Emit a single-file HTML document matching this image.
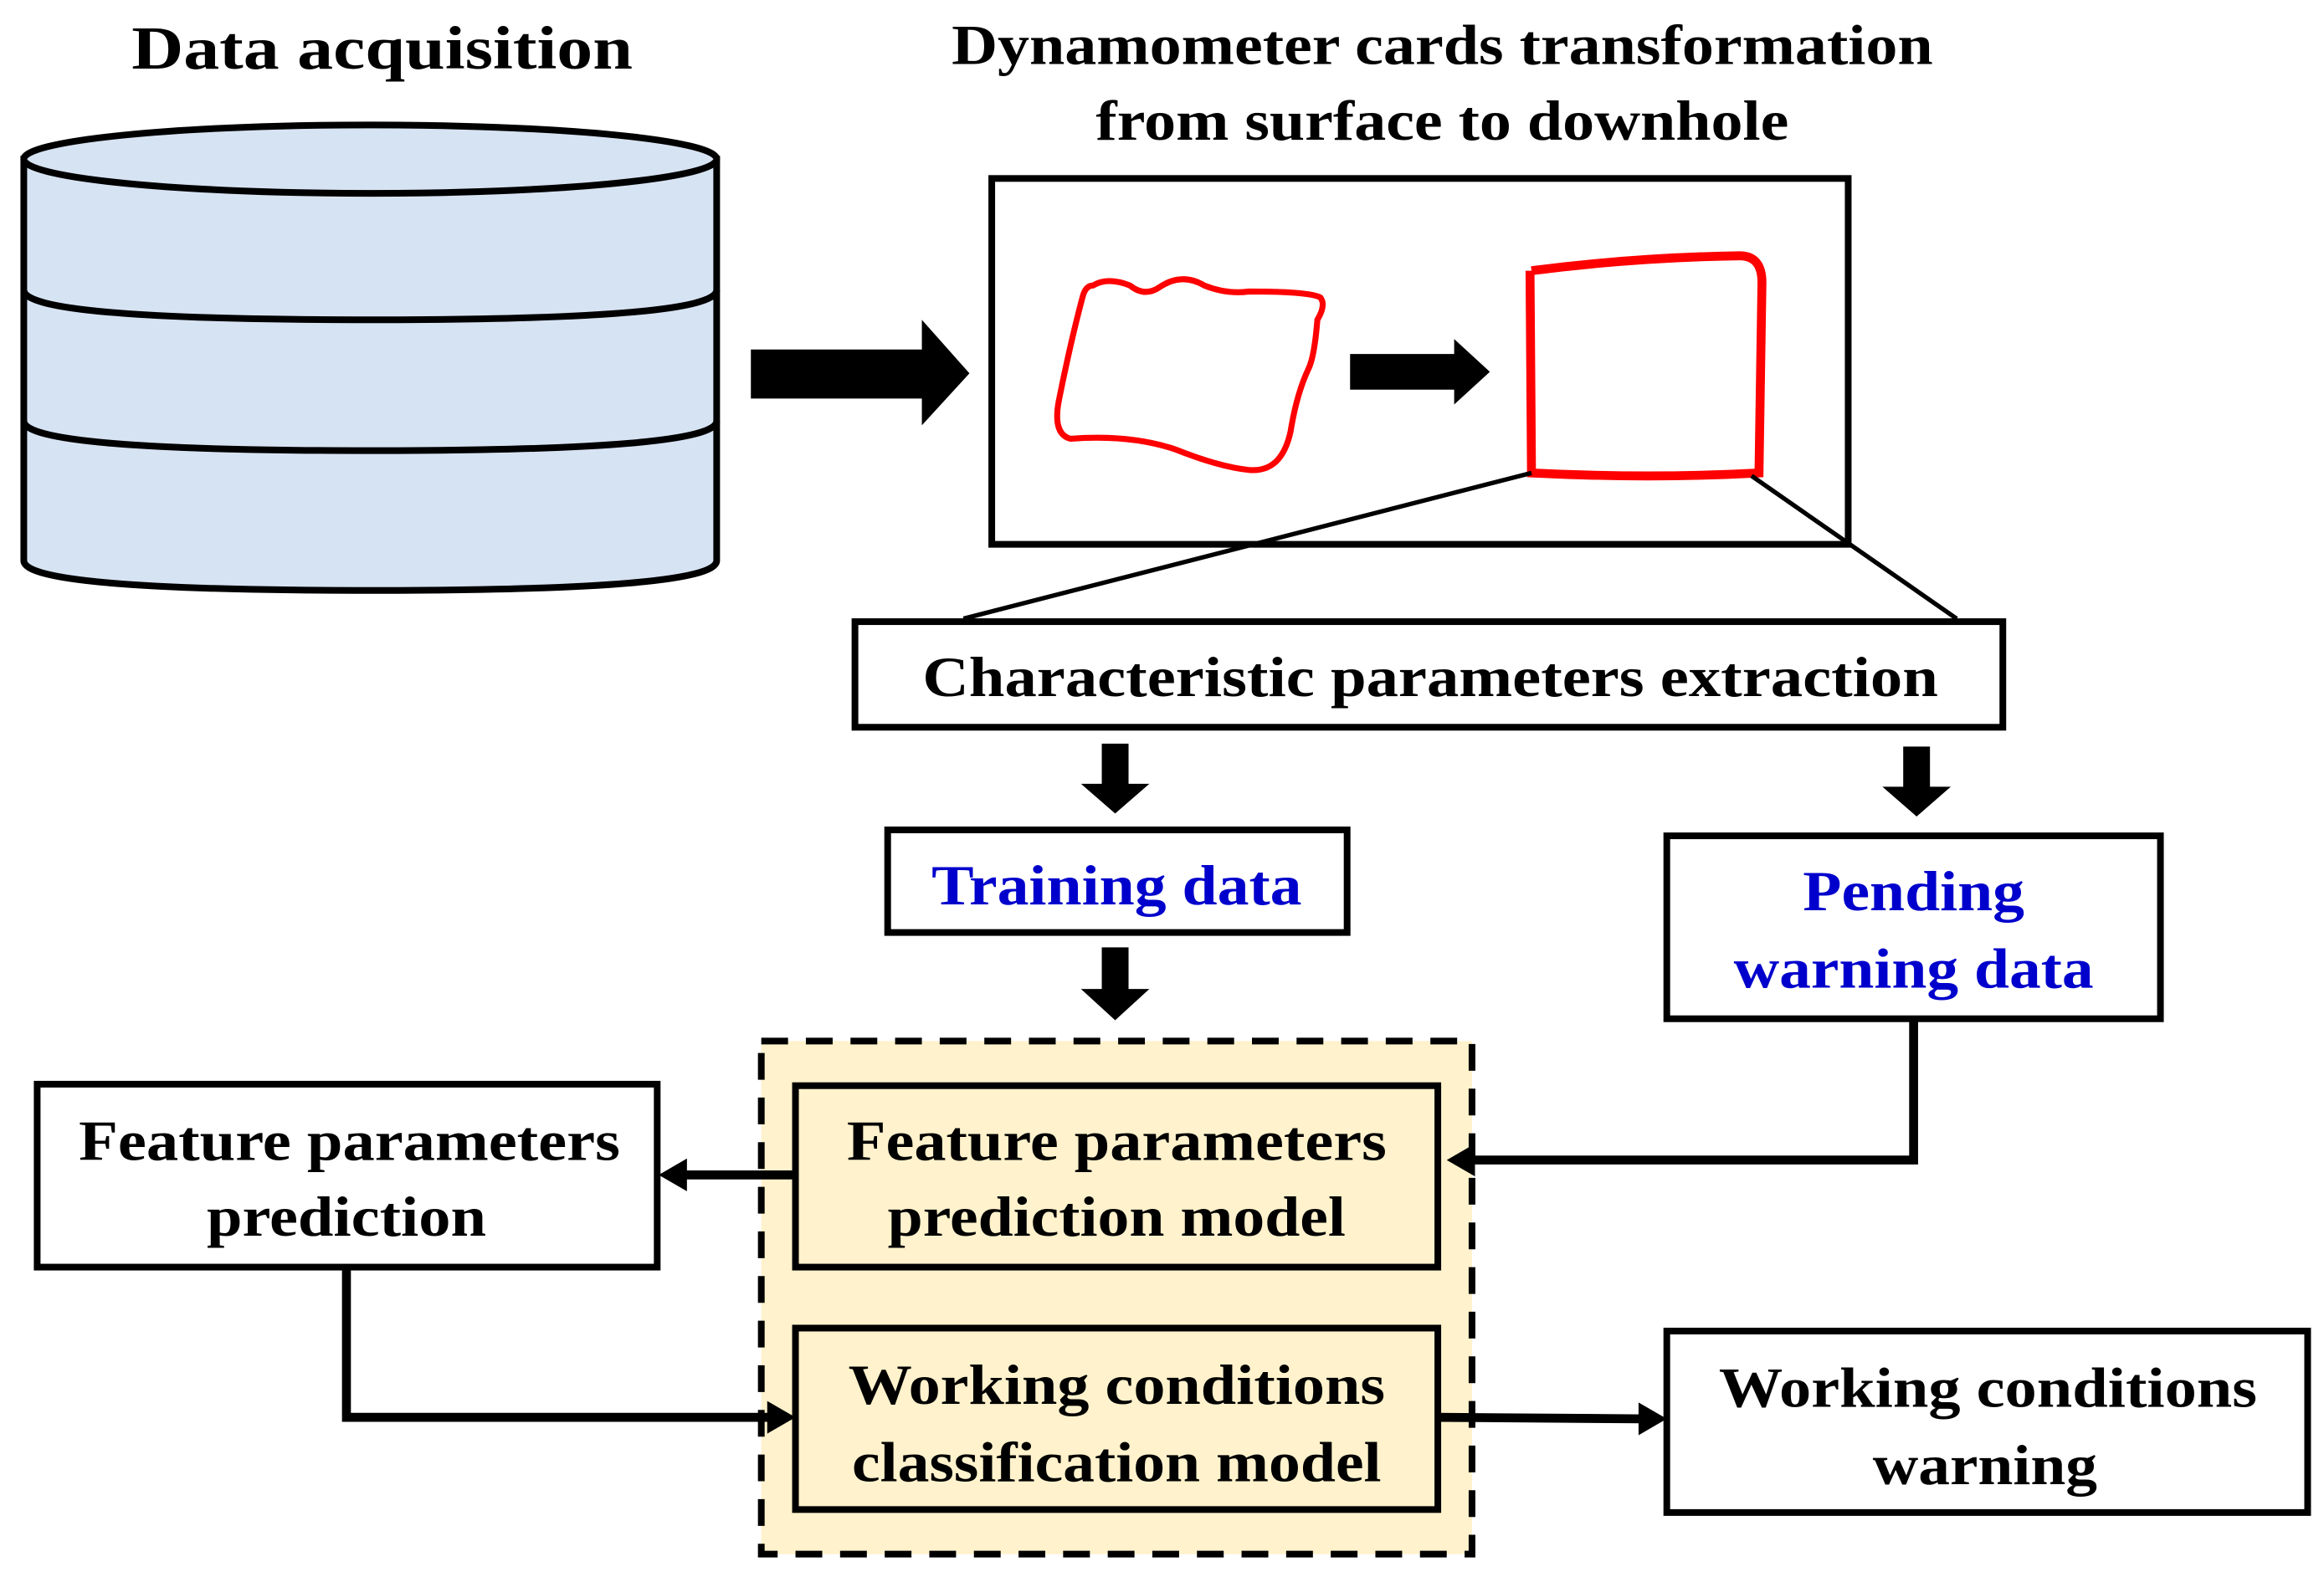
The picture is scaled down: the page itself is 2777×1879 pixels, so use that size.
<!DOCTYPE html>
<html><head><meta charset="utf-8"><style>
html,body{margin:0;padding:0;background:#fff;}
svg{display:block;}
text{font-family:"Liberation Serif","DejaVu Serif",serif;font-weight:bold;text-anchor:middle;}
</style></head><body>
<svg width="2777" height="1879" viewBox="0 0 1563 1057" preserveAspectRatio="none" xmlns="http://www.w3.org/2000/svg">
<rect width="1563" height="1057" fill="#fff"/>
<text x="257" y="46" font-size="41" textLength="337" lengthAdjust="spacingAndGlyphs">Data acquisition</text>
<text x="970" y="43" font-size="38" textLength="660" lengthAdjust="spacingAndGlyphs">Dynamometer cards transformation</text>
<text x="970" y="94" font-size="38" textLength="466" lengthAdjust="spacingAndGlyphs">from surface to downhole</text>
<!-- cylinder -->
<path d="M16,107 L16,377 Q16,397 249,397 Q482,397 482,377 L482,107 Z" fill="#d6e3f2" stroke="#000" stroke-width="4.5"/>
<ellipse cx="249" cy="107" rx="233" ry="23" fill="#d6e3f2" stroke="#000" stroke-width="4.5"/>
<path d="M16,195 Q16,215 249,215 Q482,215 482,195" fill="none" stroke="#000" stroke-width="4.5"/>
<path d="M16,283 Q16,303 249,303 Q482,303 482,283" fill="none" stroke="#000" stroke-width="4.5"/>
<!-- big arrow -->
<polygon points="505,235 620,235 620,215 652,251 620,286 620,268 505,268" fill="#000"/>
<!-- card box -->
<rect x="667" y="120" width="576" height="246" fill="#fff" stroke="#000" stroke-width="4.5"/>
<path d="M735,192 Q745,186 760,192 Q770,200 780,193 Q795,183 810,192 Q825,198 840,196 Q880,196 888,200 Q892,205 886,215 Q884,240 880,248 Q872,265 868,290 Q862,318 840,316 Q820,314 790,302 Q760,292 720,295 Q708,292 712,270 Q720,230 728,200 Q730,192 735,192 Z" fill="none" stroke="#f00" stroke-width="4"/>
<path d="M1030,182 Q1100,173 1170,172 Q1185,172 1185,190 L1183,318 Q1110,322 1030,318 L1029,182" fill="none" stroke="#f00" stroke-width="6"/>
<polygon points="908,238 978,238 978,228 1002,250 978,272 978,262 908,262" fill="#000"/>
<line x1="1030" y1="318" x2="648" y2="416" stroke="#000" stroke-width="3"/>
<line x1="1178" y1="320" x2="1316" y2="416" stroke="#000" stroke-width="3"/>
<!-- char box -->
<rect x="575" y="418" width="772" height="71" fill="#fff" stroke="#000" stroke-width="4.5"/>
<text x="962" y="468" font-size="38" textLength="683" lengthAdjust="spacingAndGlyphs">Characteristic parameters extraction</text>
<polygon points="741,500 759,500 759,527 773,527 750,547 727,527 741,527" fill="#000"/>
<polygon points="1280,502 1298,502 1298,529 1312,529 1289,549 1266,529 1280,529" fill="#000"/>
<!-- training -->
<rect x="597" y="558" width="309" height="69" fill="#fff" stroke="#000" stroke-width="4.5"/>
<text x="751" y="608" font-size="38" fill="#0000cc" textLength="249" lengthAdjust="spacingAndGlyphs">Training data</text>
<polygon points="741,637 759,637 759,665 773,665 750,686 727,665 741,665" fill="#000"/>
<!-- pending -->
<rect x="1121" y="562" width="332" height="123" fill="#fff" stroke="#000" stroke-width="4.5"/>
<text x="1287" y="612" font-size="38" fill="#0000cc" textLength="149" lengthAdjust="spacingAndGlyphs">Pending</text>
<text x="1287" y="664" font-size="38" fill="#0000cc" textLength="242" lengthAdjust="spacingAndGlyphs">warning data</text>
<!-- dashed container -->
<rect x="512" y="700" width="478" height="345" fill="#fff2cc" stroke="#000" stroke-width="4.5" stroke-dasharray="18,12"/>
<rect x="535" y="730" width="432" height="122" fill="#fff2cc" stroke="#000" stroke-width="4.5"/>
<text x="751" y="780" font-size="38" textLength="363" lengthAdjust="spacingAndGlyphs">Feature parameters</text>
<text x="751" y="831" font-size="38" textLength="308" lengthAdjust="spacingAndGlyphs">prediction model</text>
<rect x="535" y="893" width="432" height="122" fill="#fff2cc" stroke="#000" stroke-width="4.5"/>
<text x="751" y="944" font-size="38" textLength="361" lengthAdjust="spacingAndGlyphs">Working conditions</text>
<text x="751" y="996" font-size="38" textLength="356" lengthAdjust="spacingAndGlyphs">classification model</text>
<!-- FPP -->
<rect x="25" y="729" width="417" height="123" fill="#fff" stroke="#000" stroke-width="4.5"/>
<text x="235" y="780" font-size="38" textLength="364" lengthAdjust="spacingAndGlyphs">Feature parameters</text>
<text x="233" y="831" font-size="38" textLength="188" lengthAdjust="spacingAndGlyphs">prediction</text>
<!-- WCW -->
<rect x="1121" y="895" width="431" height="122" fill="#fff" stroke="#000" stroke-width="4.5"/>
<text x="1337" y="946" font-size="38" textLength="362" lengthAdjust="spacingAndGlyphs">Working conditions</text>
<text x="1335" y="998" font-size="38" textLength="151" lengthAdjust="spacingAndGlyphs">warning</text>
<!-- connectors -->
<line x1="535" y1="790" x2="458" y2="790" stroke="#000" stroke-width="6"/>
<polygon points="443,790 462,779 462,801" fill="#000"/>
<polyline points="1287,685 1287,780 990,780" fill="none" stroke="#000" stroke-width="6"/>
<polygon points="973,780 992,769 992,791" fill="#000"/>
<polyline points="233,852 233,953 518,953" fill="none" stroke="#000" stroke-width="6"/>
<polygon points="535,953 516,942 516,964" fill="#000"/>
<line x1="967" y1="953" x2="1104" y2="954" stroke="#000" stroke-width="6"/>
<polygon points="1121,954 1102,943 1102,965" fill="#000"/>
</svg>
</body></html>
